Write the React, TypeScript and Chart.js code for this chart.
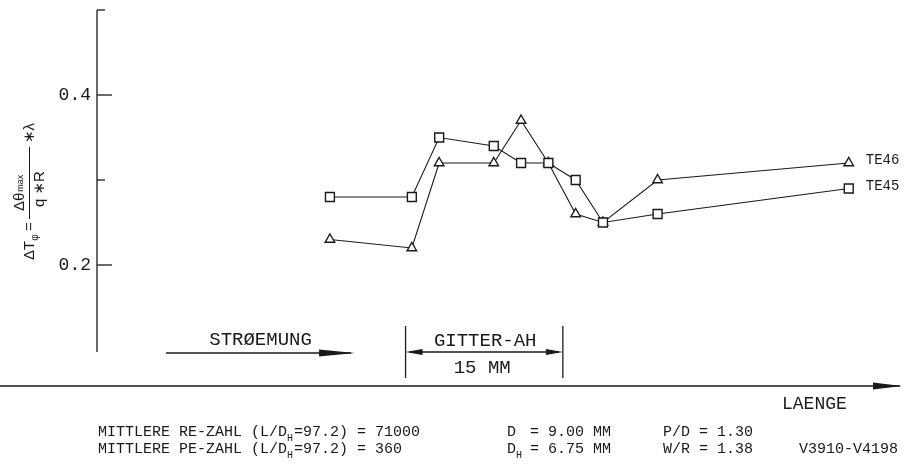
import React, { useEffect, useRef } from "react";
import { Chart, registerables } from "chart.js";

Chart.register(...registerables);

// ---- data ----
const positions = [0, 3, 4, 6, 7, 8, 9, 10, 12, 19];
const te45 = [0.28, 0.28, 0.35, 0.34, 0.32, 0.32, 0.3, 0.25, 0.26, 0.29];
const te46 = [0.23, 0.22, 0.32, 0.32, 0.37, 0.32, 0.26, 0.25, 0.3, 0.32];
const seriesNames = ["TE45", "TE46"];
const yMajorTicks = [0.2, 0.4];
const yMinorTicks = [0.3, 0.5];
const yTickLabels = ["0.2", "0.4"];
const gitterRange = [2.77, 8.53];
const flowArrowRange = [-6.0, 0.92];

const INK = "#1a1a1a";
const MONO = '"Liberation Mono", "DejaVu Sans Mono", monospace';
const SANS = '"Liberation Sans", "DejaVu Sans", sans-serif';

function line(ctx: CanvasRenderingContext2D, x1: number, y1: number, x2: number, y2: number) {
  ctx.beginPath();
  ctx.moveTo(x1, y1);
  ctx.lineTo(x2, y2);
  ctx.stroke();
}

function head(ctx: CanvasRenderingContext2D, tipX: number, y: number, len: number, half: number) {
  ctx.beginPath();
  ctx.moveTo(tipX, y);
  ctx.lineTo(tipX - len, y - half);
  ctx.lineTo(tipX - len, y + half);
  ctx.closePath();
  ctx.fill();
}

function textRuns(ctx: CanvasRenderingContext2D, x: number, y: number, runs: Array<[string, boolean]>) {
  let cx = x;
  for (const [t, sub] of runs) {
    if (sub) {
      ctx.font = `10px ${MONO}`;
      ctx.fillText(t, cx, y + 5);
      cx += ctx.measureText(t).width + 1;
    } else {
      ctx.font = `15px ${MONO}`;
      ctx.fillText(t, cx, y);
      cx += ctx.measureText(t).width;
    }
  }
}

const overlay = {
  id: "overlay",
  afterDraw(chart: any) {
    const { ctx, chartArea: a, scales } = chart;
    const xs = scales.x;
    const ys = scales.y;
    ctx.save();
    ctx.strokeStyle = INK;
    ctx.fillStyle = INK;
    ctx.lineWidth = 1.3;

    // y axis
    const yTop = ys.getPixelForValue(0.5);
    const yBot = ys.getPixelForValue(0.1);
    line(ctx, a.left, yTop, a.left, yBot + 2);
    yMajorTicks.forEach((v, i) => {
      const py = ys.getPixelForValue(v);
      line(ctx, a.left, py, a.left + 15, py);
      ctx.font = `18px ${MONO}`;
      ctx.textAlign = "right";
      ctx.textBaseline = "middle";
      ctx.fillText(yTickLabels[i], a.left - 6, py);
    });
    yMinorTicks.forEach((v) => {
      const py = ys.getPixelForValue(v);
      line(ctx, a.left, py, a.left + 8, py);
    });

    // x axis (length) below the plot
    const axisY = a.bottom + 36;
    line(ctx, 0, axisY, a.right - 2, axisY);
    head(ctx, a.right, axisY, 29, 3.5);
    ctx.font = `18px ${MONO}`;
    ctx.textAlign = "left";
    ctx.textBaseline = "alphabetic";
    ctx.fillText("LAENGE", 782, axisY + 23);

    // flow arrow
    const fy = a.bottom + 3;
    const f1 = xs.getPixelForValue(flowArrowRange[0]);
    const f2 = xs.getPixelForValue(flowArrowRange[1]);
    line(ctx, f1, fy, f2 - 4, fy);
    head(ctx, f2, fy, 36, 3.5);
    ctx.font = `19px ${MONO}`;
    ctx.textAlign = "center";
    ctx.fillText("STRØEMUNG", (f1 + f2) / 2 + 0, fy - 8);

    // gitter bracket
    const g1 = xs.getPixelForValue(gitterRange[0]);
    const g2 = xs.getPixelForValue(gitterRange[1]);
    const gy = a.bottom + 2;
    line(ctx, g1, a.bottom - 24, g1, a.bottom + 28);
    line(ctx, g2, a.bottom - 24, g2, a.bottom + 28);
    line(ctx, g1 + 4, gy, g2 - 4, gy);
    head(ctx, g2, gy, 17, 3);
    ctx.save();
    ctx.translate(g1, gy);
    ctx.scale(-1, 1);
    head(ctx, 0, 0, 17, 3);
    ctx.restore();
    ctx.font = `19px ${MONO}`;
    ctx.textAlign = "center";
    ctx.fillText("GITTER-AH", (g1 + g2) / 2 + 1, gy - 6);
    ctx.fillText("15 MM", (g1 + g2) / 2 - 2, gy + 21);

    // series labels at last points
    const meta46 = chart.getDatasetMeta(1).data;
    const meta45 = chart.getDatasetMeta(0).data;
    const l46 = meta46[meta46.length - 1];
    const l45 = meta45[meta45.length - 1];
    ctx.font = `14px ${MONO}`;
    ctx.textAlign = "left";
    ctx.fillText(seriesNames[1], l46.x + 17, l46.y + 1);
    ctx.fillText(seriesNames[0], l45.x + 17, l45.y + 1);

    // info lines
    ctx.textAlign = "left";
    const r1 = 436;
    const r2 = 453;
    textRuns(ctx, 98, r1, [["MITTLERE RE-ZAHL (L/D", false], ["H", true], ["=97.2) = 71000", false]]);
    textRuns(ctx, 98, r2, [["MITTLERE PE-ZAHL (L/D", false], ["H", true], ["=97.2) = 360", false]]);
    textRuns(ctx, 507, r1, [["D", false]]);
    textRuns(ctx, 530, r1, [["= 9.00 MM", false]]);
    textRuns(ctx, 507, r2, [["D", false], ["H", true]]);
    textRuns(ctx, 530, r2, [["= 6.75 MM", false]]);
    textRuns(ctx, 663, r1, [["P/D = 1.30", false]]);
    textRuns(ctx, 663, r2, [["W/R = 1.38", false]]);
    textRuns(ctx, 799, r2, [["V3910-V4198", false]]);

    // y title (rotated)
    ctx.save();
    ctx.rotate(-Math.PI / 2);
    ctx.textAlign = "left";
    ctx.textBaseline = "alphabetic";
    ctx.font = `15px ${SANS}`;
    let u = -260;
    ctx.fillText("ΔT", u, 34);
    u += ctx.measureText("ΔT").width;
    ctx.font = `10px ${SANS}`;
    ctx.fillText("φ", u, 38);
    ctx.font = `15px ${SANS}`;
    ctx.fillText("=", -231, 34);
    ctx.lineWidth = 1;
    line(ctx, -219, 29.5, -147, 29.5);
    ctx.fillText("Δθ", -211, 24);
    const w = ctx.measureText("Δθ").width;
    ctx.font = `9px ${SANS}`;
    ctx.fillText("max", -211 + w + 1, 23);
    ctx.font = `15px ${SANS}`;
    ctx.fillText("q ∗R", -207, 44);
    ctx.fillText("∗λ", -143, 34);
    ctx.restore();

    ctx.restore();
  },
};

export default function App() {
  const ref = useRef<HTMLCanvasElement | null>(null);
  useEffect(() => {
    if (!ref.current) return;
    const chart = new Chart(ref.current, {
      type: "line",
      data: {
        datasets: [
          {
            label: seriesNames[0],
            data: positions.map((x, i) => ({ x, y: te45[i] })),
            borderColor: INK,
            borderWidth: 1.1,
            pointStyle: "rect",
            pointRadius: 6.3,
            pointBorderWidth: 1.4,
            pointBackgroundColor: "#ffffff",
            pointBorderColor: INK,
            tension: 0,
          },
          {
            label: seriesNames[1],
            data: positions.map((x, i) => ({ x, y: te46[i] })),
            borderColor: INK,
            borderWidth: 1.1,
            pointStyle: "triangle",
            pointRadius: 5.5,
            pointBorderWidth: 1.4,
            pointBackgroundColor: "#ffffff",
            pointBorderColor: INK,
            tension: 0,
          },
        ],
      },
      options: {
        animation: false,
        responsive: false,
        devicePixelRatio: 1,
        layout: { padding: { left: 97, top: 10, right: 13, bottom: 118 } },
        plugins: { legend: { display: false }, tooltip: { enabled: false } },
        scales: {
          x: { type: "linear", min: -8.53, max: 20.95, display: false },
          y: { type: "linear", min: 0.1, max: 0.5, display: false },
        },
      },
      plugins: [overlay],
    });
    return () => chart.destroy();
  }, []);
  return (
    <div style={{ position: "absolute", left: 0, top: 0, width: 915, height: 468, background: "#fff" }}>
      <canvas ref={ref} width={915} height={468} style={{ display: "block" }} />
    </div>
  );
}
